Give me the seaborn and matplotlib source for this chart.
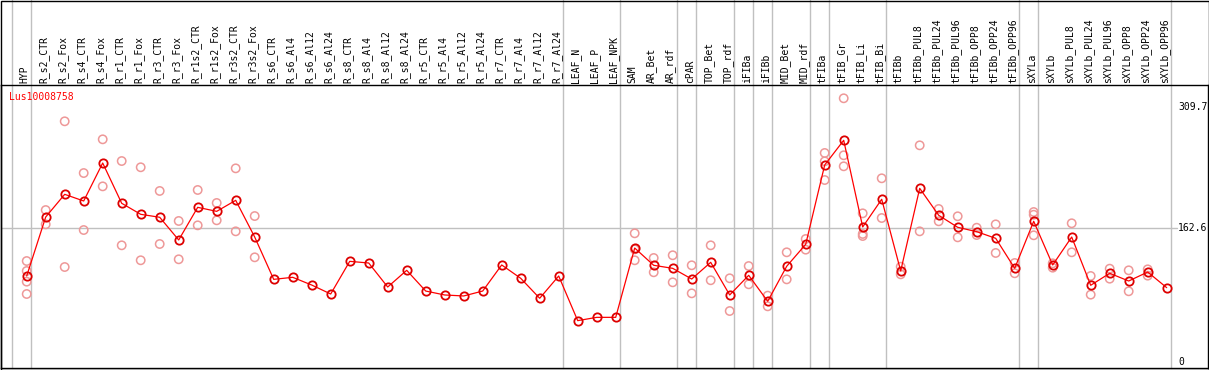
import matplotlib
matplotlib.use("Agg")
import matplotlib.pyplot as plt
import matplotlib.transforms as mtransforms
from matplotlib.patches import Rectangle
import pandas as pd
import seaborn as sns

# sample names along the x axis
samples = ["HYP", "R_s2_CTR", "R_s2_Fox", "R_s4_CTR", "R_s4_Fox", "R_r1_CTR", "R_r1_Fox",
           "R_r3_CTR", "R_r3_Fox", "R_r1s2_CTR", "R_r1s2_Fox", "R_r3s2_CTR", "R_r3s2_Fox",
           "R_s6_CTR", "R_s6_Al4", "R_s6_Al12", "R_s6_Al24", "R_s8_CTR", "R_s8_Al4",
           "R_s8_Al12", "R_s8_Al24", "R_r5_CTR", "R_r5_Al4", "R_r5_Al12", "R_r5_Al24",
           "R_r7_CTR", "R_r7_Al4", "R_r7_Al12", "R_r7_Al24", "LEAF_N", "LEAF_P", "LEAF_NPK",
           "SAM", "AR_Bet", "AR_rdf", "cPAR", "TOP_Bet", "TOP_rdf", "iFIBa", "iFIBb",
           "MID_Bet", "MID_rdf", "tFIBa", "tFIB_Gr", "tFIB_Li", "tFIB_Bi", "tFIBb",
           "tFIBb_PUL8", "tFIBb_PUL24", "tFIBb_PUL96", "tFIBb_OPP8", "tFIBb_OPP24",
           "tFIBb_OPP96", "sXYLa", "sXYLb", "sXYLb_PUL8", "sXYLb_PUL24", "sXYLb_PUL96",
           "sXYLb_OPP8", "sXYLb_OPP24", "sXYLb_OPP96"]

# mean expression per sample
means = [104.6, 176.3, 203.9, 195.8, 242.0, 193.0, 179.6, 176.0, 148.4, 188.1, 183.2,
         196.6, 152.0, 100.5, 103.0, 93.6, 82.7, 122.4, 120.4, 91.2, 111.5, 86.3, 81.5,
         80.3, 86.3, 118.0, 101.8, 77.5, 104.6, 50.3, 54.3, 54.3, 138.6, 117.6, 113.9,
         100.9, 121.2, 81.5, 105.4, 73.8, 116.4, 143.1, 239.6, 269.6, 164.2, 197.9, 110.7,
         211.2, 178.4, 163.8, 158.5, 150.4, 113.9, 171.1, 118.0, 152.0, 93.3, 107.9, 98.5,
         109.4, 90.4]

# replicate values per sample (empty = none shown)
replicates = [[122.8, 110.7, 97.7, 82.7], [184.8, 167.4], [292.7, 115.5], [229.8, 160.5],
              [270.8, 213.6], [244.4, 141.9], [236.8, 123.7], [208.0, 143.5], [171.5, 124.9],
              [209.2, 166.2], [193.4, 172.3], [235.5, 158.9], [177.5, 127.3],
              [], [], [], [], [], [], [], [], [], [], [], [], [], [], [], [], [], [], [],
              [156.5, 137.0, 123.7], [126.5, 109.1], [129.8, 96.9], [117.6, 83.5],
              [141.9, 99.4], [101.8, 62.0], [116.7, 94.5], [80.7, 67.7], [133.4, 100.5],
              [149.6, 136.6], [254.2, 244.0, 221.3], [320.7, 251.4, 238.0],
              [180.8, 155.7, 153.2], [223.4, 175.1], [115.9, 106.6], [263.5, 158.9],
              [186.1, 171.1], [177.2, 151.6], [163.3, 154.4], [167.4, 132.6], [120.4, 107.9],
              [182.4, 179.1, 154.1], [120.0, 114.7], [168.7, 133.4], [104.6, 81.9],
              [113.5, 101.3], [111.5, 86.0], [112.7, 105.0], []]

# samples after which a group separator is drawn
group_ends = [-1, 0, 28, 31, 34, 35, 37, 38, 39, 41, 42, 45, 52, 53, 60]
y_ticks = [0, 162.6, 309.7]
gene = "Lus10008758"

sns.set_style("white")
plt.rcParams["font.family"] = ["DejaVu Sans Mono"]

df = pd.DataFrame({"pos": range(len(samples)), "sample": samples, "value": means})
rep_df = pd.DataFrame([(i, v) for i, vals in enumerate(replicates) for v in vals],
                      columns=["pos", "value"])

W, H = 1209, 370
fig = plt.figure(figsize=(W / 100, H / 100), dpi=100)
ax_top, ax_bot = 85, 368
ax = fig.add_axes([1 / W, (H - ax_bot) / H, 1207 / W, (ax_bot - ax_top) / H])

# layout in sample units: x pixel = 26.7 + 19 * i, y pixel = 362 - 0.8223 * v
ax.set_xlim((1 - 26.7) / 19, (1208 - 26.7) / 19)
ax.set_ylim((362 - ax_bot) / 0.8223, (362 - ax_top) / 0.8223)

for g in group_ends:
    ax.axvline(g + 0.2, ymin=0, ymax=1 + ax_top / (ax_bot - ax_top), color="#c0c0c0",
               lw=1, clip_on=False, zorder=1)
ax.axhline(162.6, xmin=0, xmax=(1177 - 1) / 1207, color="#c0c0c0", lw=1, zorder=1)

sns.scatterplot(data=rep_df, x="pos", y="value", ax=ax, marker="o", s=36,
                facecolors="none", edgecolor="#ee9898", linewidth=1.1, zorder=2)
sns.lineplot(data=df, x="pos", y="value", ax=ax, color="red", lw=0.9, marker="o",
             markersize=6, markerfacecolor="none", markeredgecolor="#dd0000",
             markeredgewidth=1.3, zorder=3)

ax.set_xlabel("")
ax.set_ylabel("")
ax.set_xticks([])
ax.set_yticks([])
for s in ax.spines.values():
    s.set_color("black")
    s.set_linewidth(1)

# vertical sample labels above the plot
lab_tr = mtransforms.blended_transform_factory(ax.transData, ax.transAxes)
lab_off = mtransforms.offset_copy(lab_tr, fig=fig, x=0, y=2, units="dots")
for i, name in enumerate(samples):
    ax.text(i - 0.1, 1.0, name, transform=lab_off, rotation=90, ha="center", va="bottom",
            fontsize=7, color="black")

# value labels on the right
val_tr = mtransforms.blended_transform_factory(ax.transAxes, ax.transData)
for v in y_ticks:
    ax.text((1178 - 1) / 1207, v, f"{v:g}", transform=val_tr, ha="left", va="center",
            fontsize=7, color="black")

ax.text(8 / 1207, 1 - 12 / (ax_bot - ax_top), gene, transform=ax.transAxes, ha="left",
        va="center", fontsize=7, color="red")

fig.patches.append(Rectangle((0.5 / W, 0.5 / H), (W - 1) / W, (H - 1) / H,
                             transform=fig.transFigure, fill=False, edgecolor="black", lw=1))

fig.savefig("out.png", dpi=100)
